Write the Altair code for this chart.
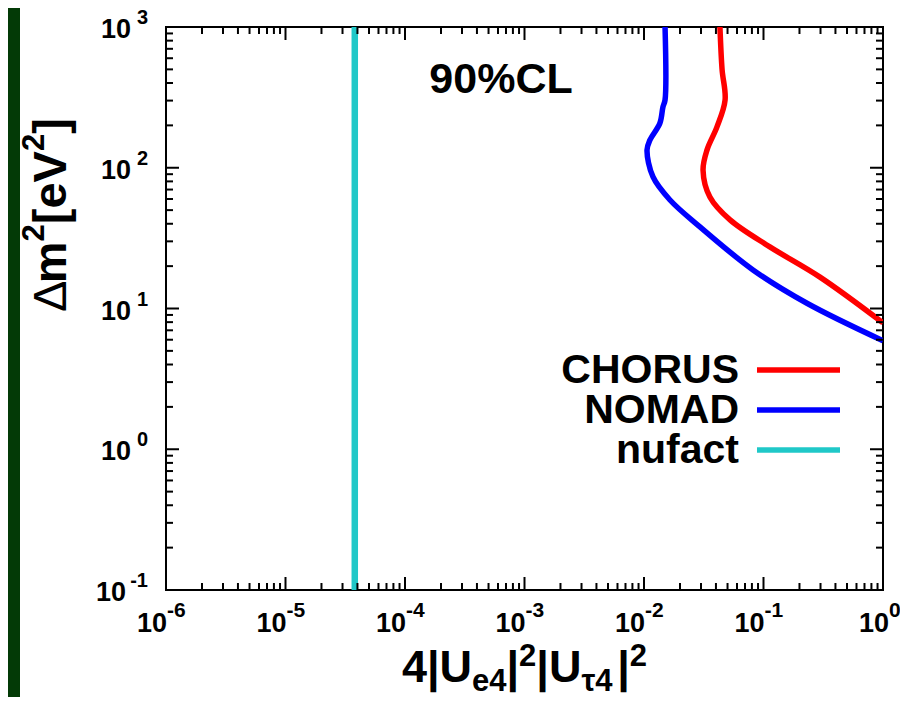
import altair as alt
import pandas as pd

W, H = 717, 563
FONT = "Liberation Sans"

# ---------------- data ----------------
series_names = ["CHORUS", "NOMAD", "nufact"]
series_colors = ["#ff0000", "#0000ff", "#20c8c8"]
series_widths = [5.5, 5.5, 6.5]

chorus_x = [0.0432, 0.0450, 0.0477, 0.0408, 0.0337, 0.0312, 0.0356, 0.0525, 0.113, 0.297, 1.0]
chorus_y = [1000, 500, 303, 195, 134, 96, 62, 42.6, 27.4, 16.7, 7.9]

nomad_x = [0.0150, 0.0150, 0.0144, 0.0136, 0.0112, 0.0106, 0.0119, 0.0165, 0.0294, 0.0817, 0.231, 1.0]
nomad_y = [1000, 303, 270, 208, 157, 134, 86, 59, 38, 18.8, 10.9, 5.9]

nufact_x = [3.8e-5, 3.8e-5]
nufact_y = [0.1, 1000]

x_decades = [1e-6, 1e-5, 1e-4, 1e-3, 1e-2, 1e-1, 1.0]
x_exponents = ["-6", "-5", "-4", "-3", "-2", "-1", "0"]
y_decades = [0.1, 1.0, 10.0, 100.0, 1000.0]
y_exponents = ["-1", "0", "1", "2", "3"]
minor_mult = [2, 3, 4, 5, 6, 7, 8, 9]

annotation = "90%CL"

# ---------------- tables ----------------
rows = []
for name, xs, ys, sw in zip(series_names, [chorus_x, nomad_x, nufact_x], [chorus_y, nomad_y, nufact_y], series_widths):
    for i, (a, b) in enumerate(zip(xs, ys)):
        rows.append({"series": name, "i": i, "x": a, "y": b, "sw": sw})
curves = pd.DataFrame(rows)

x_major = pd.DataFrame({"v": x_decades, "e": x_exponents,
                        "neg": [e.startswith("-") for e in x_exponents]})
x_minor = pd.DataFrame({"v": [m * d for d in x_decades[:-1] for m in minor_mult]})
y_major = pd.DataFrame({"v": y_decades, "e": y_exponents,
                        "neg": [e.startswith("-") for e in y_exponents]})
y_minor = pd.DataFrame({"v": [m * d for d in y_decades[:-1] for m in minor_mult]})

xscale = alt.Scale(type="log", domain=[1e-6, 1.0], nice=False)
yscale = alt.Scale(type="log", domain=[0.1, 1000.0], nice=False)
X = lambda f: alt.X(f, scale=xscale, axis=None)
Y = lambda f: alt.Y(f, scale=yscale, axis=None)

one = pd.DataFrame({"t": [""]})
layers = []

# green strip at the left of the page
layers.append(alt.Chart(one).mark_rect(color="#033a06").encode(
    x=alt.value(-158), x2=alt.value(-146), y=alt.value(-19), y2=alt.value(H + 107)))

# curves
layers.append(alt.Chart(curves).mark_line(interpolate="catmull-rom", clip=True).encode(
    x=X("x:Q"), y=Y("y:Q"), order="i:Q", detail="series:N",
    strokeWidth=alt.StrokeWidth("sw:Q", scale=None, legend=None),
    color=alt.Color("series:N", scale=alt.Scale(domain=series_names, range=series_colors), legend=None)))

# ticks (inward, all four sides)
tick = dict(color="black", strokeWidth=2)
for df, L in [(x_major, 13), (x_minor, 7)]:
    layers.append(alt.Chart(df).mark_rule(**tick).encode(x=X("v:Q"), y=alt.value(H), y2=alt.value(H - L)))
    layers.append(alt.Chart(df).mark_rule(**tick).encode(x=X("v:Q"), y=alt.value(0), y2=alt.value(L)))
for df, L in [(y_major, 13), (y_minor, 7)]:
    layers.append(alt.Chart(df).mark_rule(**tick).encode(y=Y("v:Q"), x=alt.value(0), x2=alt.value(L)))
    layers.append(alt.Chart(df).mark_rule(**tick).encode(y=Y("v:Q"), x=alt.value(W), x2=alt.value(W - L)))

# tick labels: x
base = dict(font=FONT, fontWeight="bold", baseline="alphabetic", color="black")
for neg, shift in [(True, 0), (False, 5)]:
    sub = alt.Chart(x_major).transform_filter(alt.datum.neg == neg)
    layers.append(sub.mark_text(align="right", fontSize=27, dx=1 + shift, **base).encode(
        x=X("v:Q"), y=alt.value(H + 42), text=alt.value("10")))
    layers.append(sub.mark_text(align="left", fontSize=21, dx=1 + shift, **base).encode(
        x=X("v:Q"), y=alt.value(H + 27), text="e:N"))
# tick labels: y
for neg, xr in [(True, -40), (False, -35)]:
    sub = alt.Chart(y_major).transform_filter(alt.datum.neg == neg)
    layers.append(sub.mark_text(align="right", fontSize=27, dy=11, **base).encode(
        y=Y("v:Q"), x=alt.value(xr), text=alt.value("10")))
layers.append(alt.Chart(y_major).mark_text(align="right", fontSize=20, dy=-3, **base).encode(
    y=Y("v:Q"), x=alt.value(-18), text="e:N"))

# annotation
layers.append(alt.Chart(pd.DataFrame({"t": [annotation]})).mark_text(
    align="center", fontSize=43, **base).encode(x=alt.value(335), y=alt.value(66), text="t:N"))

# legend
for k, (name, col) in enumerate(zip(series_names, series_colors)):
    layers.append(alt.Chart(pd.DataFrame({"t": [name]})).mark_text(
        align="right", fontSize=41, **base).encode(x=alt.value(573), y=alt.value(356 + 40 * k), text="t:N"))
    layers.append(alt.Chart(one).mark_rule(strokeWidth=5.5, color=col).encode(
        x=alt.value(591), x2=alt.value(674), y=alt.value(343 + 40 * k)))

# approximate advance widths (em) for layout of composite titles
adv = {"4": 0.556, "2": 0.556, "|": 0.28, "U": 0.722, "e": 0.556, "τ": 0.6,
       "Δ": 0.612, "m": 0.889, "[": 0.333, "V": 0.667, "]": 0.333}
width = lambda s, size: sum(adv[c] for c in s) * size

# x title: 4|U_e4|^2|U_τ4|^2
xt = [("4|U", 45, 0), ("e4", 31, 9), ("|", 45, 0), ("2", 31, -16),
      ("|U", 45, 0), ("τ4", 31, 9), ("|", 45, 0), ("2", 31, -16)]
total = sum(width(s, f) for s, f, _ in xt)
cx = W / 2 - total / 2
for s, f, d in xt:
    layers.append(alt.Chart(pd.DataFrame({"t": [s]})).mark_text(
        align="left", fontSize=f, **base).encode(x=alt.value(cx), y=alt.value(655 + d), text="t:N"))
    cx += width(s, f)

# y title: Δm^2[eV^2] rotated
yt = [("Δ", 47, 0, "normal"), ("m", 47, 0, "bold"), ("2", 31, -22, "bold"),
      ("[eV", 47, 0, "bold"), ("2", 31, -22, "bold"), ("]", 47, 0, "bold")]
cy = 285
for s, f, d, wgt in yt:
    layers.append(alt.Chart(pd.DataFrame({"t": [s]})).mark_text(
        align="left", angle=270, fontSize=f, font=FONT, fontWeight=wgt, baseline="alphabetic",
        color="black").encode(x=alt.value(-100 + d), y=alt.value(cy), text="t:N"))
    cy -= width(s, f)

chart = alt.layer(*layers).properties(
    width=W, height=H,
    padding={"left": 158, "top": 19, "right": 17, "bottom": 107},
    autosize=alt.AutoSizeParams(type="none"),
    background="white",
).configure_view(stroke="black", strokeWidth=2)

chart.save("out.html", embed_options={"renderer": "svg", "actions": False})
